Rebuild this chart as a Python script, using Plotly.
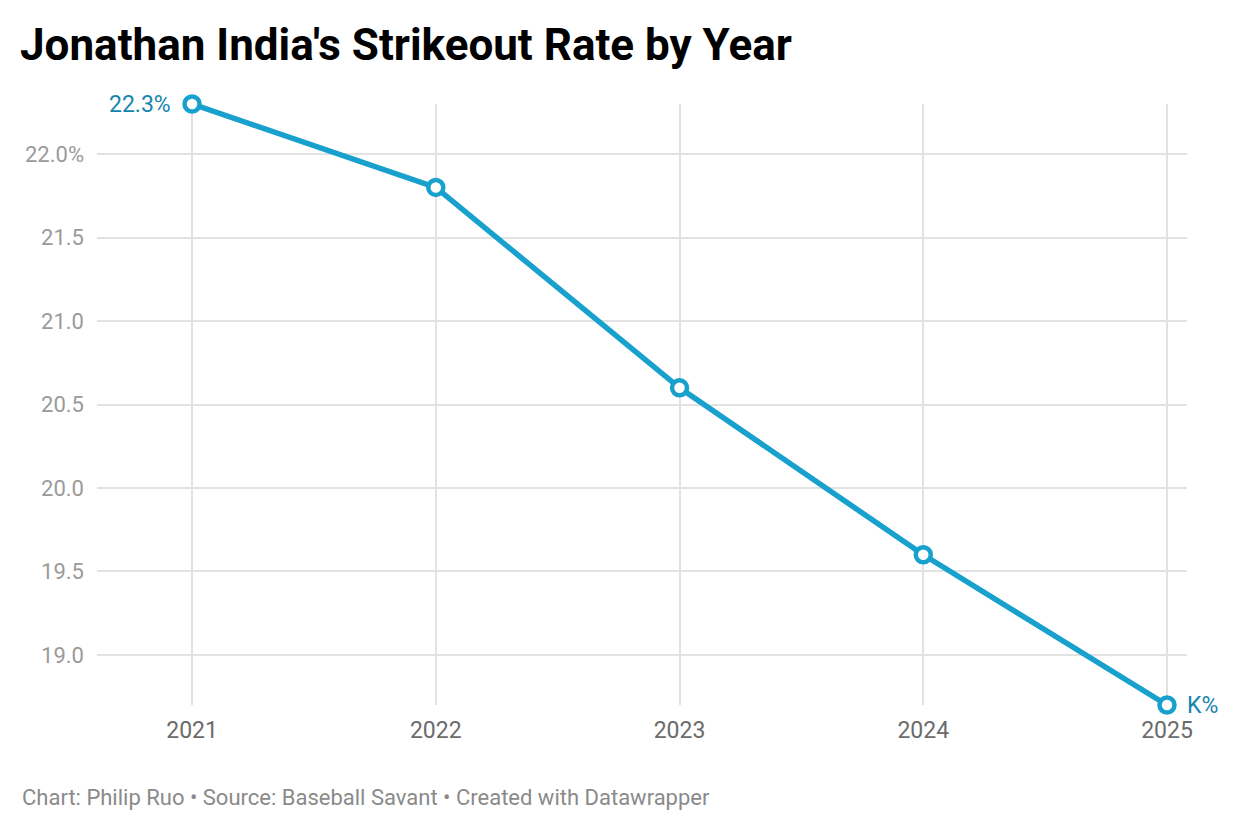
import plotly.graph_objects as go

years = [2021, 2022, 2023, 2024, 2025]
k_rate = [22.3, 21.8, 20.6, 19.6, 18.7]
y_ticks = [19.0, 19.5, 20.0, 20.5, 21.0, 21.5, 22.0]
y_labels = ["19.0", "19.5", "20.0", "20.5", "21.0", "21.5", "22.0%"]

line_col = "#18a1cd"
label_col = "#1585ae"

# page has an 8px body margin, so shift everything back by 8px
fig = go.Figure()
fig.add_trace(go.Scatter(
    x=years, y=k_rate, mode="lines+markers",
    line=dict(color=line_col, width=5.5),
    marker=dict(size=15, color="white", line=dict(color=line_col, width=4.5)),
    cliponaxis=False, hoverinfo="skip",
))

fig.add_annotation(x=years[0], y=k_rate[0], text=f"{k_rate[0]}%", showarrow=False,
                   xanchor="right", xshift=-19, font=dict(size=23, color=label_col))
fig.add_annotation(x=years[-1], y=k_rate[-1], text="K%", showarrow=False,
                   xanchor="left", xshift=18, font=dict(size=23, color=label_col))

fig.update_layout(
    width=1240, height=830,
    margin=dict(l=89, r=61, t=96, b=133),
    paper_bgcolor="white", plot_bgcolor="white",
    font=dict(family="Roboto", size=22),
    showlegend=False,
    title=dict(text="<b>Jonathan India's Strikeout Rate by Year</b>",
               x=12 / 1240, xref="container", xanchor="left",
               y=1 - 37 / 830, yref="container", yanchor="middle",
               font=dict(size=44, color="#000")),
)

fig.update_xaxes(range=[2020.61, 2025.082], tickvals=years, ticktext=[str(y) for y in years],
                 showgrid=True, gridcolor="#e2e2e2", gridwidth=1.5, zeroline=False,
                 showline=False, ticks="", ticklabelstandoff=9,
                 tickfont=dict(color="#6b6b6b", size=23))
fig.update_yaxes(range=[18.7, 22.3], tickvals=y_ticks, ticktext=y_labels,
                 showgrid=True, gridcolor="#e2e2e2", gridwidth=1.5, zeroline=False,
                 showline=False, ticks="", ticklabelstandoff=12,
                 tickfont=dict(color="#9a9a9a", size=22))

fig.add_annotation(text="Chart: Philip Ruo • Source: Baseball Savant • Created with Datawrapper",
                   xref="paper", yref="paper", x=-77 / 1090, y=-(797 - 705) / 601,
                   xanchor="left", yanchor="middle", showarrow=False,
                   font=dict(size=22, color="#8a8a8a"))

fig.write_html("out.html")
